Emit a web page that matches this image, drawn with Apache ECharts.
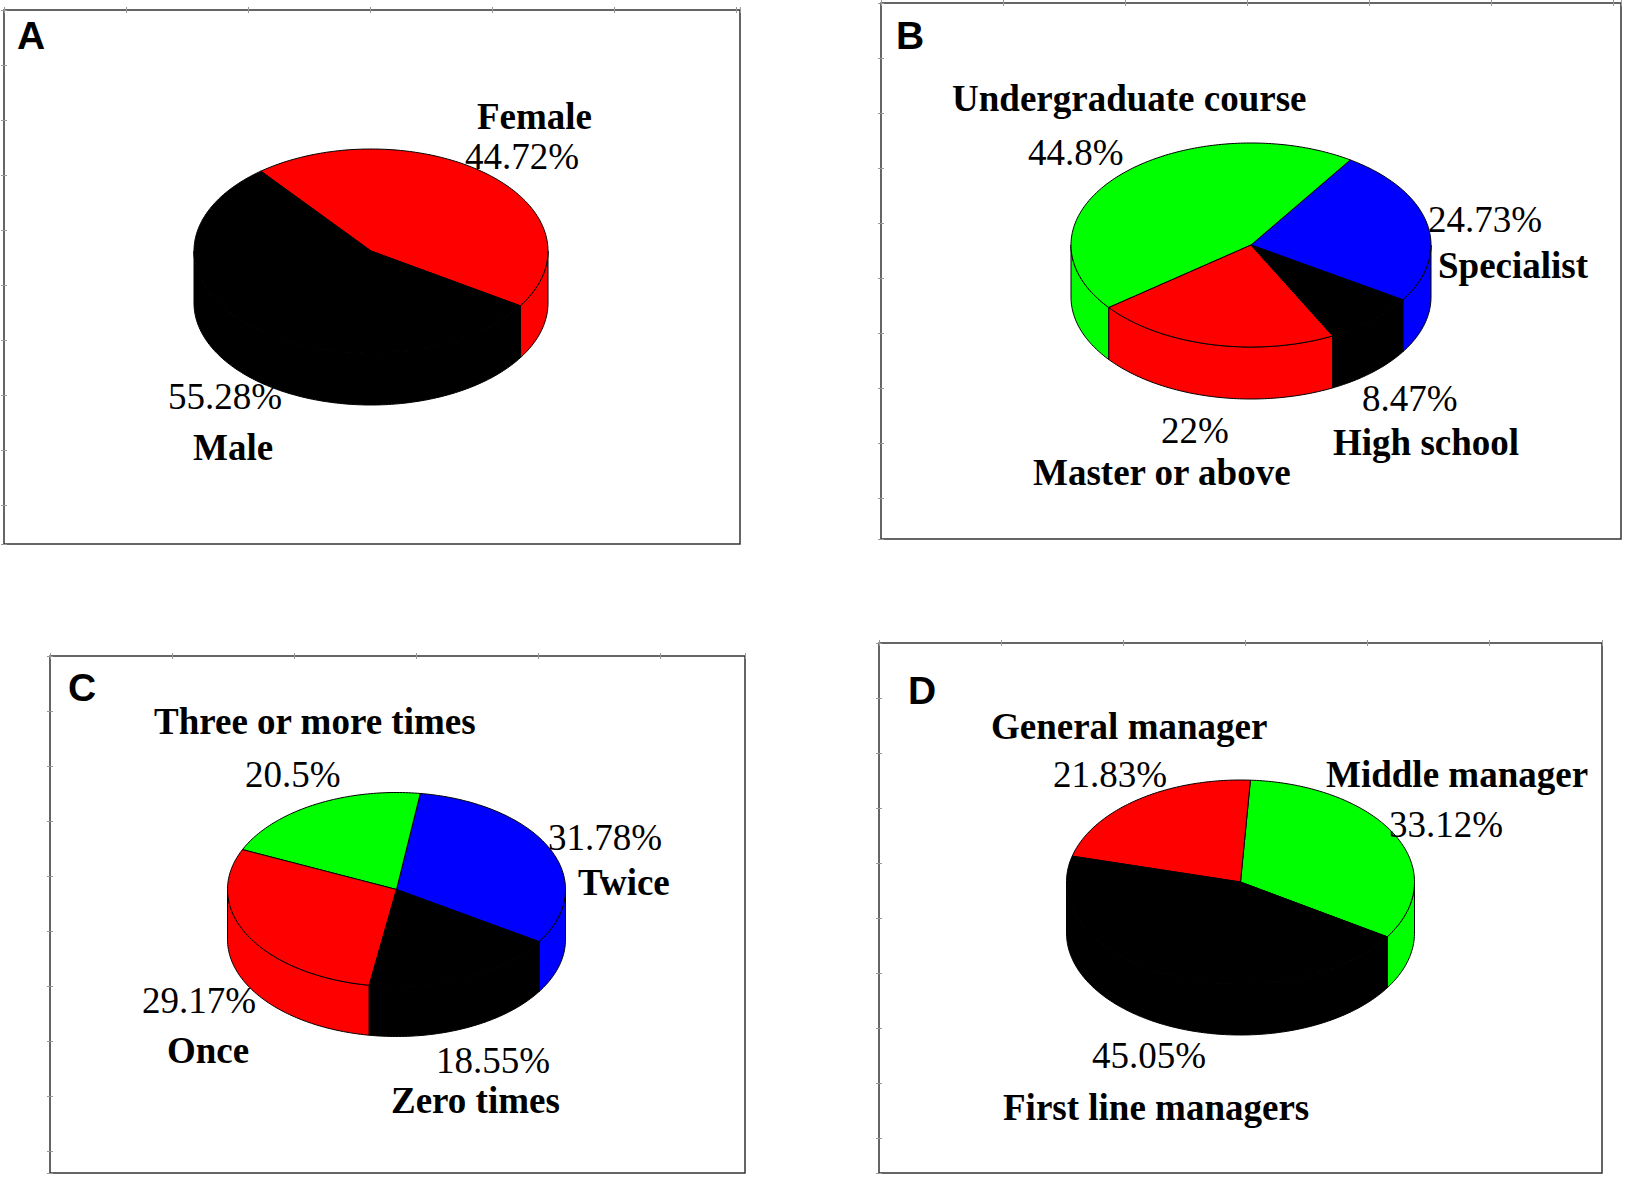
<!DOCTYPE html>
<html>
<head>
<meta charset="utf-8">
<title>3D pie panels</title>
<script src="https://cdn.jsdelivr.net/npm/echarts@6.0.0/dist/echarts.min.js"></script>
<style>
  html, body { margin: 0; padding: 0; background: #fff; }
  #chart { width: 1625px; height: 1177px; }
</style>
</head>
<body>
<div id="chart"></div>
<script>
// A - gender
const genderNames = ['Female', 'Male'];
const genderValues = [44.72, 55.28];
// B - education
const eduNames = ['Specialist', 'Undergraduate course', 'Master or above', 'High school'];
const eduValues = [24.73, 44.8, 22, 8.47];
// C - times
const timesNames = ['Twice', 'Three or more times', 'Once', 'Zero times'];
const timesValues = [31.78, 20.5, 29.17, 18.55];
// D - position
const postNames = ['Middle manager', 'General manager', 'First line managers'];
const postValues = [33.12, 21.83, 45.05];

const RED = '#ff0000', GREEN = '#00ff00', BLUE = '#0000ff', BLACK = '#000000';

// slices are laid counter-clockwise from this screen angle (deg, clockwise from east)
const ANCHOR = 32.5;
const TICK_X = 122, TICK_Y = 55;

const panels = [
  {
    letter: 'A', names: genderNames, values: genderValues, colors: [RED, BLACK],
    box: [4, 10, 736, 534], letterAt: [17, 35],
    pie: { cx: 371, cy: 251, rx: 177, ry: 102, depth: 52 },
    nameAt: [[477, 116], [193, 447]],
    valueAt: [[465, 156], [168, 396]]
  },
  {
    letter: 'B', names: eduNames, values: eduValues, colors: [BLUE, GREEN, RED, BLACK],
    box: [881, 3, 740, 536], letterAt: [896, 35],
    pie: { cx: 1251, cy: 245, rx: 180, ry: 102, depth: 52 },
    nameAt: [[1438, 265], [952, 98], [1033, 472], [1333, 442]],
    valueAt: [[1428, 219], [1028, 152], [1161, 430], [1362, 398]]
  },
  {
    letter: 'C', names: timesNames, values: timesValues, colors: [BLUE, GREEN, RED, BLACK],
    box: [50, 656, 695, 517], letterAt: [68, 687],
    pie: { cx: 396.5, cy: 889.5, rx: 169, ry: 97, depth: 50 },
    nameAt: [[578, 882], [154, 721], [167, 1050], [391, 1100]],
    valueAt: [[548, 837], [245, 774], [142, 1000], [436, 1060]]
  },
  {
    letter: 'D', names: postNames, values: postValues, colors: [GREEN, RED, BLACK],
    box: [879, 643, 723, 530], letterAt: [908, 690],
    pie: { cx: 1240.5, cy: 882, rx: 174, ry: 102, depth: 51 },
    nameAt: [[1326, 774], [991, 726], [1003, 1107]],
    valueAt: [[1389, 824], [1053, 774], [1092, 1055]]
  }
];

function arcPoints(pie, a, b, dy) {
  const pts = [];
  const steps = Math.max(2, Math.ceil(Math.abs(b - a)));
  for (let s = 0; s <= steps; s++) {
    const t = (a + (b - a) * s / steps) * Math.PI / 180;
    pts.push([pie.cx + pie.rx * Math.cos(t), pie.cy + pie.ry * Math.sin(t) + dy]);
  }
  return pts;
}

function makeRenderItem(panel) {
  const total = panel.values.reduce((a, b) => a + b, 0);
  const pie = panel.pie;
  return function (params, api) {
    const i = params.dataIndex;
    let before = 0;
    for (let k = 0; k < i; k++) before += panel.values[k];
    const after = before + api.value(0);
    const t1 = ANCHOR - before / total * 360;
    const t0 = ANCHOR - after / total * 360;
    const color = panel.colors[i];
    const children = [];

    // front side wall: part of the slice where sin(t) > 0
    for (let k = -720; k <= 360; k += 360) {
      const a = Math.max(t0, k), b = Math.min(t1, k + 180);
      if (b > a) {
        const pts = arcPoints(pie, a, b, 0).concat(arcPoints(pie, b, a, pie.depth));
        children.push({
          type: 'polygon', z2: 1,
          shape: { points: pts },
          style: { fill: color, stroke: '#000', lineWidth: 1 }
        });
      }
    }
    // top face
    children.push({
      type: 'polygon', z2: 2,
      shape: { points: [[pie.cx, pie.cy]].concat(arcPoints(pie, t0, t1, 0)) },
      style: { fill: color, stroke: '#000', lineWidth: 1, lineJoin: 'round' }
    });
    // labels
    children.push({
      type: 'text', z2: 3,
      style: {
        text: panel.names[i], x: panel.nameAt[i][0], y: panel.nameAt[i][1],
        fill: '#000', font: 'bold 37px "Liberation Serif", "Times New Roman", serif',
        align: 'left', verticalAlign: 'middle'
      }
    });
    children.push({
      type: 'text', z2: 3,
      style: {
        text: api.value(0) + '%', x: panel.valueAt[i][0], y: panel.valueAt[i][1],
        fill: '#000', font: '37px "Liberation Serif", "Times New Roman", serif',
        align: 'left', verticalAlign: 'middle'
      }
    });
    return { type: 'group', children: children };
  };
}

const tickStyle = { show: true, inside: false, length: 3, lineStyle: { color: '#999', width: 1 } };

const option = {
  animation: false,
  backgroundColor: '#fff',
  grid: panels.map(p => ({
    left: p.box[0], top: p.box[1], width: p.box[2], height: p.box[3],
    show: true, borderColor: '#333', borderWidth: 1.5,
    backgroundColor: 'transparent', containLabel: false, outerBoundsMode: 'none'
  })),
  xAxis: panels.flatMap((p, g) => ['top', 'bottom'].map(pos => ({
    gridIndex: g, type: 'value', position: pos, min: 0, max: p.box[2], interval: TICK_X,
    axisLine: { show: false }, axisLabel: { show: false }, splitLine: { show: false },
    axisTick: tickStyle
  }))),
  yAxis: panels.flatMap((p, g) => ['left', 'right'].map(pos => ({
    gridIndex: g, type: 'value', position: pos, inverse: true, min: 0, max: p.box[3], interval: TICK_Y,
    axisLine: { show: false }, axisLabel: { show: false }, splitLine: { show: false },
    axisTick: tickStyle
  }))),
  graphic: panels.map(p => ({
    type: 'text', x: p.letterAt[0], y: p.letterAt[1], z: 10,
    style: {
      text: p.letter, fill: '#000',
      font: 'bold 39px "Liberation Sans", Arial, sans-serif', verticalAlign: 'middle'
    }
  })),
  series: panels.map(p => ({
    type: 'custom',
    coordinateSystem: 'none',
    silent: true,
    renderItem: makeRenderItem(p),
    data: p.values.map(v => [v])
  }))
};

const chart = echarts.init(document.getElementById('chart'), null, { renderer: 'svg' });
chart.setOption(option);
</script>
</body>
</html>
